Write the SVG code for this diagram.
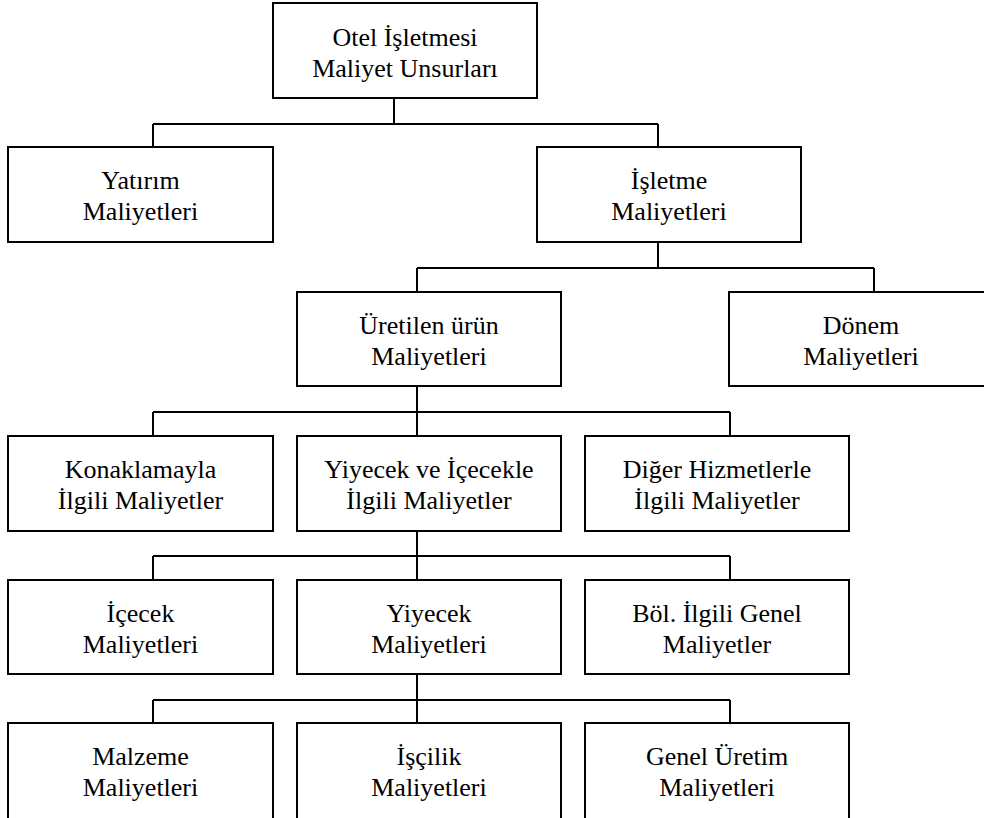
<svg xmlns="http://www.w3.org/2000/svg" width="984" height="818" viewBox="0 0 984 818">
<style>
.box{fill:#fff;stroke:#000;stroke-width:2}
.ln{fill:none;stroke:#000;stroke-width:2}
.t{font-family:'Liberation Serif','DejaVu Serif',serif;font-size:26px;fill:#000;text-anchor:middle}
</style>
<rect width="984" height="818" fill="#fff"/>
<g id="connectors">
<path class="ln" d="M394 98V124M153 124H658M153 124V147M658 124V147"/>
<path class="ln" d="M658 242V268M417 268H874M417 268V292M874 268V292"/>
<path class="ln" d="M417 386V412M153 412H730M153 412V436M417 412V436M730 412V436"/>
<path class="ln" d="M417 531V556M153 556H730M153 556V580M417 556V580M730 556V580"/>
<path class="ln" d="M417 674V700M153 700H730M153 700V723M417 700V723M730 700V723"/>
</g>
<g class="t" font-family="Liberation Serif, serif">
<g id="n-root"><rect class="box" x="273" y="3" width="264" height="95"/><text x="405" y="46">Otel İşletmesi</text><text x="405" y="77">Maliyet Unsurları</text></g>
<g id="n-yatirim"><rect class="box" x="8" y="147" width="265" height="95"/><text x="140.5" y="189">Yatırım</text><text x="140.5" y="220">Maliyetleri</text></g>
<g id="n-isletme"><rect class="box" x="537" y="147" width="264" height="95"/><text x="669" y="189">İşletme</text><text x="669" y="220">Maliyetleri</text></g>
<g id="n-uretilen"><rect class="box" x="297" y="292" width="264" height="94"/><text x="429" y="334">Üretilen ürün</text><text x="429" y="365">Maliyetleri</text></g>
<g id="n-donem"><rect class="box" x="729" y="292" width="264" height="94"/><text x="861" y="334">Dönem</text><text x="861" y="365">Maliyetleri</text></g>
<g id="n-konaklama"><rect class="box" x="8" y="436" width="265" height="95"/><text x="140.5" y="478">Konaklamayla</text><text x="140.5" y="509">İlgili Maliyetler</text></g>
<g id="n-yiyicecek"><rect class="box" x="297" y="436" width="264" height="95"/><text x="429" y="478">Yiyecek ve İçecekle</text><text x="429" y="509">İlgili Maliyetler</text></g>
<g id="n-diger"><rect class="box" x="585" y="436" width="264" height="95"/><text x="717" y="478">Diğer Hizmetlerle</text><text x="717" y="509">İlgili Maliyetler</text></g>
<g id="n-icecek"><rect class="box" x="8" y="580" width="265" height="94"/><text x="140.5" y="622">İçecek</text><text x="140.5" y="653">Maliyetleri</text></g>
<g id="n-yiyecek"><rect class="box" x="297" y="580" width="264" height="94"/><text x="429" y="622">Yiyecek</text><text x="429" y="653">Maliyetleri</text></g>
<g id="n-bol"><rect class="box" x="585" y="580" width="264" height="94"/><text x="717" y="622">Böl. İlgili Genel</text><text x="717" y="653">Maliyetler</text></g>
<g id="n-malzeme"><rect class="box" x="8" y="723" width="265" height="96"/><text x="140.5" y="765">Malzeme</text><text x="140.5" y="796">Maliyetleri</text></g>
<g id="n-iscilik"><rect class="box" x="297" y="723" width="264" height="96"/><text x="429" y="765">İşçilik</text><text x="429" y="796">Maliyetleri</text></g>
<g id="n-genel"><rect class="box" x="585" y="723" width="264" height="96"/><text x="717" y="765">Genel Üretim</text><text x="717" y="796">Maliyetleri</text></g>
</g>
</svg>
